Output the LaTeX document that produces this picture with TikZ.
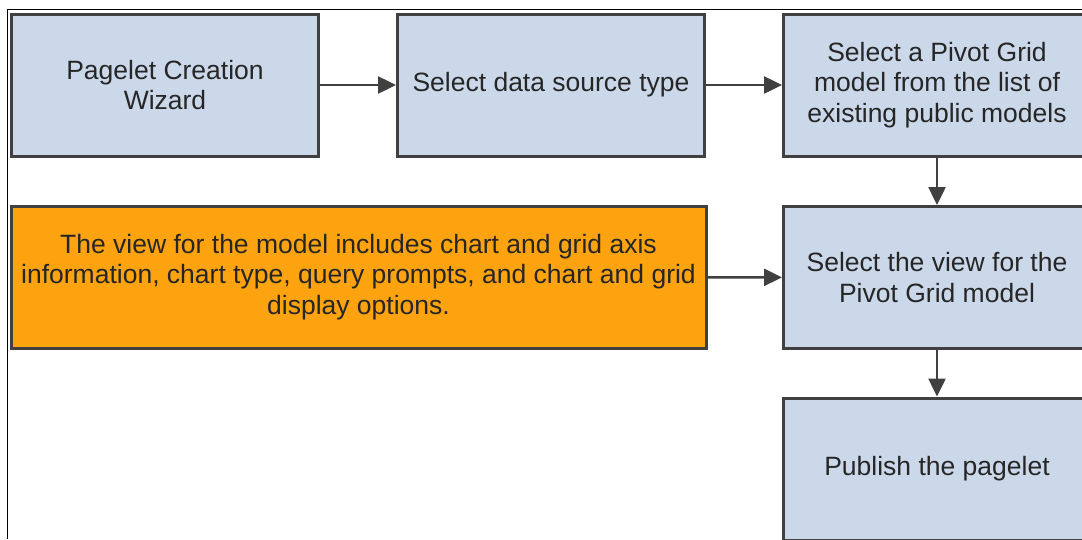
\documentclass[tikz,border=0pt]{standalone}
\usepackage{fontspec}
\setmainfont{Liberation Sans}
\usetikzlibrary{arrows.meta}
\definecolor{boxblue}{HTML}{CBD8EA}
\definecolor{boxorange}{HTML}{FDA30F}
\definecolor{edgegray}{HTML}{404040}
\definecolor{txt}{HTML}{262626}
\begin{document}
\begin{tikzpicture}[x=1pt,y=-1pt,
  stepbox/.style={draw=edgegray, line width=3pt, fill=boxblue, minimum width=307pt, minimum height=142pt,
    inner sep=0pt, align=center, text=txt, font=\fontsize{26.5}{30.5}\selectfont},
  notebox/.style={stepbox, fill=boxorange, minimum width=695pt},
  conn/.style={draw=edgegray, line width=2.5pt, -{Triangle[length=18pt,width=17pt]}}]
\useasboundingbox (0,0) rectangle (1082,539);
\clip (0,0) rectangle (1082,539);
\fill[white] (0,0) rectangle (1082,539);
\draw[black, line width=1pt] (7,539) -- (7,9) -- (1082,9);
\node[stepbox] (wiz) at (165,85) {Pagelet Creation\\Wizard};
\node[stepbox] (src) at (551,85) {Select data source type};
\node[stepbox] (pivot) at (937,85) {Select a Pivot Grid\\model from the list of\\existing public models};
\node[stepbox] (view) at (937,277.5) {Select the view for the\\Pivot Grid model};
\node[stepbox] (pub) at (937,469) {Publish the pagelet};
\node[notebox] (note) at (358.5,277) {The view for the model includes chart and grid axis\\information, chart type, query prompts, and chart and grid\\display options.};
\draw[conn] (wiz) -- (src);
\draw[conn] (src) -- (pivot);
\draw[conn] (pivot) -- (view);
\draw[conn] (note) -- (view);
\draw[conn] (view) -- (pub);
\end{tikzpicture}
\end{document}
